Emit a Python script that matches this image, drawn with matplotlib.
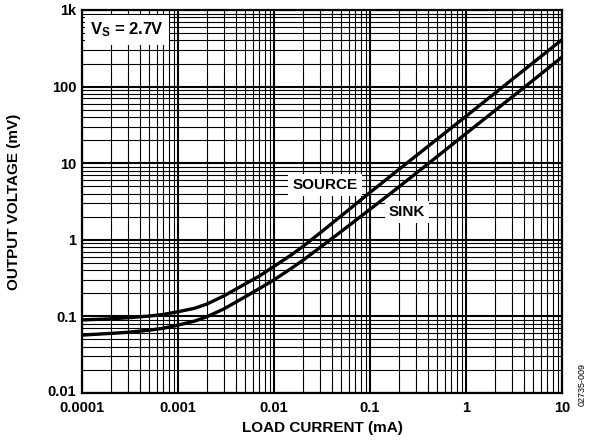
import matplotlib
matplotlib.use("Agg")
import matplotlib.pyplot as plt
import matplotlib.transforms as mtransforms
from matplotlib.ticker import LogLocator, FixedLocator, FixedFormatter, NullFormatter

plt.rcParams['font.family'] = ['Liberation Sans', 'DejaVu Sans']
plt.rcParams['mathtext.fontset'] = 'custom'
plt.rcParams['mathtext.bf'] = 'Liberation Sans:bold'
plt.rcParams['mathtext.rm'] = 'Liberation Sans'

load_current = [0.0001, 0.0002, 0.0003, 0.0005, 0.0007, 0.001, 0.0015, 0.002, 0.003,
                0.005, 0.007, 0.01, 0.015, 0.02, 0.03, 0.05, 0.1, 0.2, 0.5,
                1, 2, 5, 10]
source_mv = [0.090, 0.093, 0.096, 0.101, 0.106, 0.115, 0.128, 0.145, 0.185,
             0.265, 0.335, 0.45, 0.63, 0.82, 1.22, 2.05, 4.15, 8.3, 20.6,
             41, 82, 205, 410]
sink_mv = [0.057, 0.060, 0.062, 0.066, 0.070, 0.077, 0.087, 0.099, 0.125,
           0.18, 0.23, 0.30, 0.42, 0.54, 0.79, 1.28, 2.5, 4.9, 12.2,
           24.4, 48.6, 121, 243]

x_ticks = [0.0001, 0.001, 0.01, 0.1, 1, 10]
x_tick_labels = ["0.0001", "0.001", "0.01", "0.1", "1", "10"]
y_ticks = [0.01, 0.1, 1, 10, 100, 1000]
y_tick_labels = ["0.01", "0.1", "1", "10", "100", "1k"]

fig = plt.figure(figsize=(5.94, 4.42), dpi=100)
ax = fig.add_axes([82/594, 1-393/442, 480/594, 383/442])
ax.set_xscale('log')
ax.set_yscale('log')
ax.set_xlim(0.0001, 10)
ax.set_ylim(0.01, 1000)

ax.xaxis.set_major_locator(FixedLocator(x_ticks))
ax.xaxis.set_major_formatter(FixedFormatter(x_tick_labels))
ax.yaxis.set_major_locator(FixedLocator(y_ticks))
ax.yaxis.set_major_formatter(FixedFormatter(y_tick_labels))
ax.xaxis.set_minor_locator(LogLocator(base=10, subs=range(2, 10), numticks=20))
ax.yaxis.set_minor_locator(LogLocator(base=10, subs=range(2, 10), numticks=20))
ax.xaxis.set_minor_formatter(NullFormatter())
ax.yaxis.set_minor_formatter(NullFormatter())

ax.grid(True, which='major', color='black', linewidth=1.5)
ax.grid(True, which='minor', color='black', linewidth=0.8)
ax.set_axisbelow(True)
ax.tick_params(axis='y', which='both', length=0, pad=4)
ax.tick_params(axis='x', which='both', length=0, pad=6)
for lab in ax.get_xticklabels() + ax.get_yticklabels():
    lab.set_fontweight('bold')
    lab.set_fontsize(10.5)
for s in ax.spines.values():
    s.set_linewidth(1.6)

# nudge bottom y label up slightly (as in reference)
ylabs = ax.get_yticklabels()
off = mtransforms.ScaledTranslation(0, 2/100, fig.dpi_scale_trans)
ylabs[0].set_transform(ylabs[0].get_transform() + off)

ax.plot(load_current, source_mv, color='black', linewidth=2.4, zorder=3,
        solid_joinstyle='round')
ax.plot(load_current, sink_mv, color='black', linewidth=2.4, zorder=3,
        solid_joinstyle='round')

bbox = dict(facecolor='white', edgecolor='none', pad=3)
ax.text(127/594, 1-30/442, r"$\mathbf{V_S}$ = 2.7V", transform=fig.transFigure,
        ha='center', va='center', fontsize=12, fontweight='bold',
        bbox=dict(facecolor='white', edgecolor='none', pad=4), zorder=5)
ax.text(325/594, 1-185/442, "SOURCE", transform=fig.transFigure,
        ha='center', va='center', fontsize=11, fontweight='bold', bbox=bbox, zorder=5)
ax.text(407/594, 1-212/442, "SINK", transform=fig.transFigure,
        ha='center', va='center', fontsize=11, fontweight='bold', bbox=bbox, zorder=5)

fig.text(322/594, 1-428/442, "LOAD CURRENT (mA)", ha='center', va='center',
         fontsize=11, fontweight='bold')
fig.text(14/594, 1-202/442, "OUTPUT VOLTAGE (mV)", ha='center', va='center',
         rotation=90, fontsize=11, fontweight='bold')
fig.text(582/594, 1-384/442, "02735-009", ha='center', va='center',
         rotation=90, fontsize=6.5)

fig.savefig("out.png", dpi=100)
